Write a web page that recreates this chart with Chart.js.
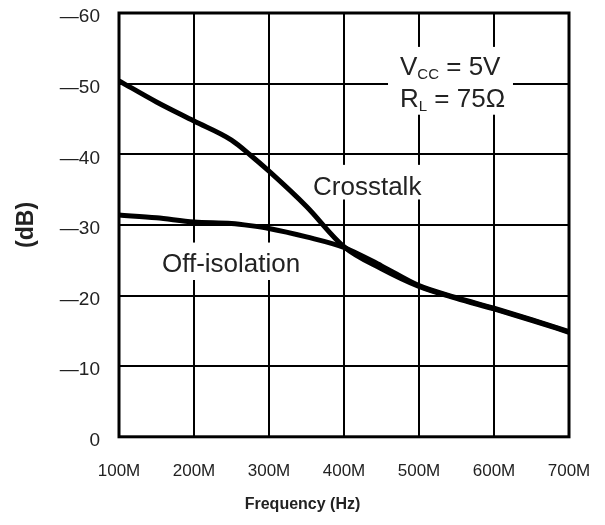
<!DOCTYPE html>
<html><head><meta charset="utf-8">
<script src="https://cdn.jsdelivr.net/npm/chart.js@4.4.1/dist/chart.umd.min.js"></script>
<style>html,body{margin:0;padding:0;background:#fff}</style>
</head><body>
<canvas id="c" width="605" height="525"></canvas>
<script>
// ---- data ----
const frequencyMHz   = [100, 150, 200, 250, 275, 300, 350, 400, 450, 500, 550, 600, 650, 700];
const crosstalkDb    = [-50.4, -47.4, -44.7, -42.0, -39.9, -37.6, -32.6, -26.9, -23.8, -21.3, -19.6, -18.1, -16.5, -14.8];
const offIsolationDb = [-31.4, -31.0, -30.4, -30.2, -29.9, -29.5, -28.3, -26.8, -24.2, -21.4, -19.7, -18.2, -16.6, -14.9];
const xTickValues = [100, 200, 300, 400, 500, 600, 700];
const xTickLabels = ['100M', '200M', '300M', '400M', '500M', '600M', '700M'];
const yTickValues = [0, -10, -20, -30, -40, -50, -60];
const yTickLabels = ['0', '\u201410', '\u201420', '\u201430', '\u201440', '\u201450', '\u201460'];
const xTitle = 'Frequency (Hz)';
const yTitle = '(dB)';
const curveLabels = ['Crosstalk', 'Off-isolation'];
const conditionLines = [['V', 'CC', ' = 5V'], ['R', 'L', ' = 75\u03A9']];

const SANS = "'Liberation Sans',Arial,sans-serif";
const TXT = '#222';

function pts(ys) { return frequencyMHz.map((f, i) => ({x: f, y: ys[i]})); }

// annotation anchors in data units
const textNotes = [
  {text: curveLabels[0], x: 358.7, y: -34.3, box: [352, 512, -38.5, -33.6]},
  {text: curveLabels[1], x: 157.3, y: -23.3, box: [150.7, 350.7, -27.5, -22.2]}
];
const condBox = [458.7, 625.3, -55.2, -45.6];
const condAnchor = [{x: 474.7, y: -51.25}, {x: 474.7, y: -46.7}];

const notesPlugin = {
  id: 'notes',
  beforeDatasetsDraw(chart) {
    const {ctx, scales: {x, y}} = chart;
    ctx.save();
    ctx.fillStyle = '#fff';
    const boxes = textNotes.map(n => n.box).concat([condBox]);
    boxes.forEach(b => {
      const x0 = x.getPixelForValue(b[0]), x1 = x.getPixelForValue(b[1]);
      const y0 = y.getPixelForValue(b[2]), y1 = y.getPixelForValue(b[3]);
      ctx.fillRect(x0, Math.min(y0, y1), x1 - x0, Math.abs(y1 - y0));
    });
    ctx.restore();
  },
  afterDatasetsDraw(chart) {
    const {ctx, chartArea: a, scales: {x, y}} = chart;
    ctx.save();
    ctx.fillStyle = TXT;
    ctx.textBaseline = 'alphabetic';
    ctx.textAlign = 'left';
    ctx.font = '26px ' + SANS;
    textNotes.forEach(n => ctx.fillText(n.text, x.getPixelForValue(n.x), y.getPixelForValue(n.y)));
    conditionLines.forEach((parts, i) => {
      let px = x.getPixelForValue(condAnchor[i].x);
      const py = y.getPixelForValue(condAnchor[i].y);
      ctx.font = '26px ' + SANS;
      ctx.fillText(parts[0], px, py);
      px += ctx.measureText(parts[0]).width;
      ctx.font = '15px ' + SANS;
      ctx.fillText(parts[1], px, py + 4);
      px += ctx.measureText(parts[1]).width;
      ctx.font = '26px ' + SANS;
      ctx.fillText(parts[2], px, py);
    });
    // frame
    ctx.strokeStyle = '#000';
    ctx.lineWidth = 3;
    ctx.strokeRect(a.left, a.top, a.right - a.left, a.bottom - a.top);
    ctx.restore();
  }
};

new Chart(document.getElementById('c'), {
  type: 'line',
  data: {
    datasets: [
      {label: curveLabels[0], data: pts(crosstalkDb), borderColor: '#000', borderWidth: 5,
       pointRadius: 0, cubicInterpolationMode: 'monotone', fill: false},
      {label: curveLabels[1], data: pts(offIsolationDb), borderColor: '#000', borderWidth: 5,
       pointRadius: 0, cubicInterpolationMode: 'monotone', fill: false}
    ]
  },
  options: {
    responsive: false,
    animation: false,
    devicePixelRatio: 1,
    layout: {padding: 0},
    plugins: {
      legend: {display: false},
      tooltip: {enabled: false},
      title: {display: true, position: 'bottom', text: xTitle, color: TXT,
              font: {family: SANS, size: 16, weight: 'bold', lineHeight: 1.2},
              padding: {top: 0, bottom: 11}}
    },
    scales: {
      x: {
        type: 'linear', min: 100, max: 700,
        afterBuildTicks: s => { s.ticks = xTickValues.map(v => ({value: v})); },
        afterFit: s => { s.height = 58; s.paddingRight = 36; s.paddingLeft = 0; },
        grid: {color: '#000', lineWidth: 2, drawTicks: false},
        border: {display: false},
        ticks: {color: TXT, padding: 24, maxRotation: 0,
                font: {family: SANS, size: 17},
                callback: v => xTickLabels[xTickValues.indexOf(v)] ?? ''}
      },
      y: {
        type: 'linear', min: -60, max: 0, reverse: true,
        afterBuildTicks: s => { s.ticks = yTickValues.map(v => ({value: v})); },
        afterFit: s => { s.width = 119; s.paddingTop = 13; s.paddingBottom = 0; },
        grid: {color: '#000', lineWidth: 2, drawTicks: false},
        border: {display: false},
        title: {display: true, text: yTitle, color: TXT,
                font: {family: SANS, size: 23, weight: 'bold'}, padding: {top: 13, bottom: 0}},
        ticks: {color: TXT, padding: 19, labelOffset: 4,
                font: {family: SANS, size: 19},
                callback: v => yTickLabels[yTickValues.indexOf(v)] ?? ''}
      }
    }
  },
  plugins: [notesPlugin]
});
</script>
</body></html>
